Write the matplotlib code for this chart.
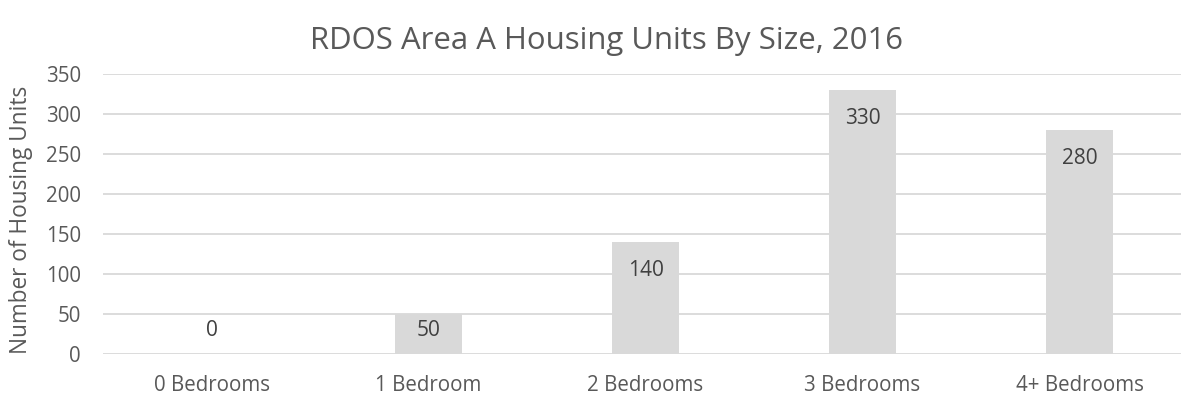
import matplotlib.pyplot as plt

categories = ["0 Bedrooms", "1 Bedroom", "2 Bedrooms", "3 Bedrooms", "4+ Bedrooms"]
units = [0, 50, 140, 330, 280]
yticks = [0, 50, 100, 150, 200, 250, 300, 350]

plt.rcParams['font.family'] = ['Open Sans', 'DejaVu Sans']

W, H = 1181, 400
fig = plt.figure(figsize=(W / 100, H / 100), dpi=100)
# plot area runs past the right edge (reference is cropped there)
left, right, bottom, top = 103, 1188, 354, 74
ax = fig.add_axes([left / W, 1 - bottom / H, (right - left) / W, (bottom - top) / H])

x = list(range(len(categories)))
ax.bar(x, units, width=0.313, color="#d9d9d9", zorder=2)
ax.set_xlim(-0.5, len(categories) - 0.5)
ax.set_ylim(0, 350)
ax.set_yticks(yticks)
ax.set_xticks(x)
ax.set_xticklabels(categories)
ax.grid(axis="y", color="#d9d9d9", linewidth=1.3, zorder=0)
ax.set_axisbelow(True)
for s in ax.spines.values():
    s.set_visible(False)
ax.tick_params(axis="both", length=0, labelsize=14.8, colors="#595959")
ax.tick_params(axis="y", pad=16)
ax.tick_params(axis="x", pad=15)

for xi, v in zip(x, units):
    ax.text(xi, max(v - 35, 30), str(v), ha="center", va="center",
            fontsize=15, color="#404040", zorder=3)

ax.set_ylabel("Number of Housing Units", fontsize=16.3, color="#595959", va="center")
ax.yaxis.set_label_coords(-82 / (right - left), 0.48)
fig.text(607 / W, 1 - 41 / H, "RDOS Area A Housing Units By Size, 2016",
         ha="center", va="center", fontsize=22.4, color="#595959")

fig.savefig("out.png", dpi=100)
